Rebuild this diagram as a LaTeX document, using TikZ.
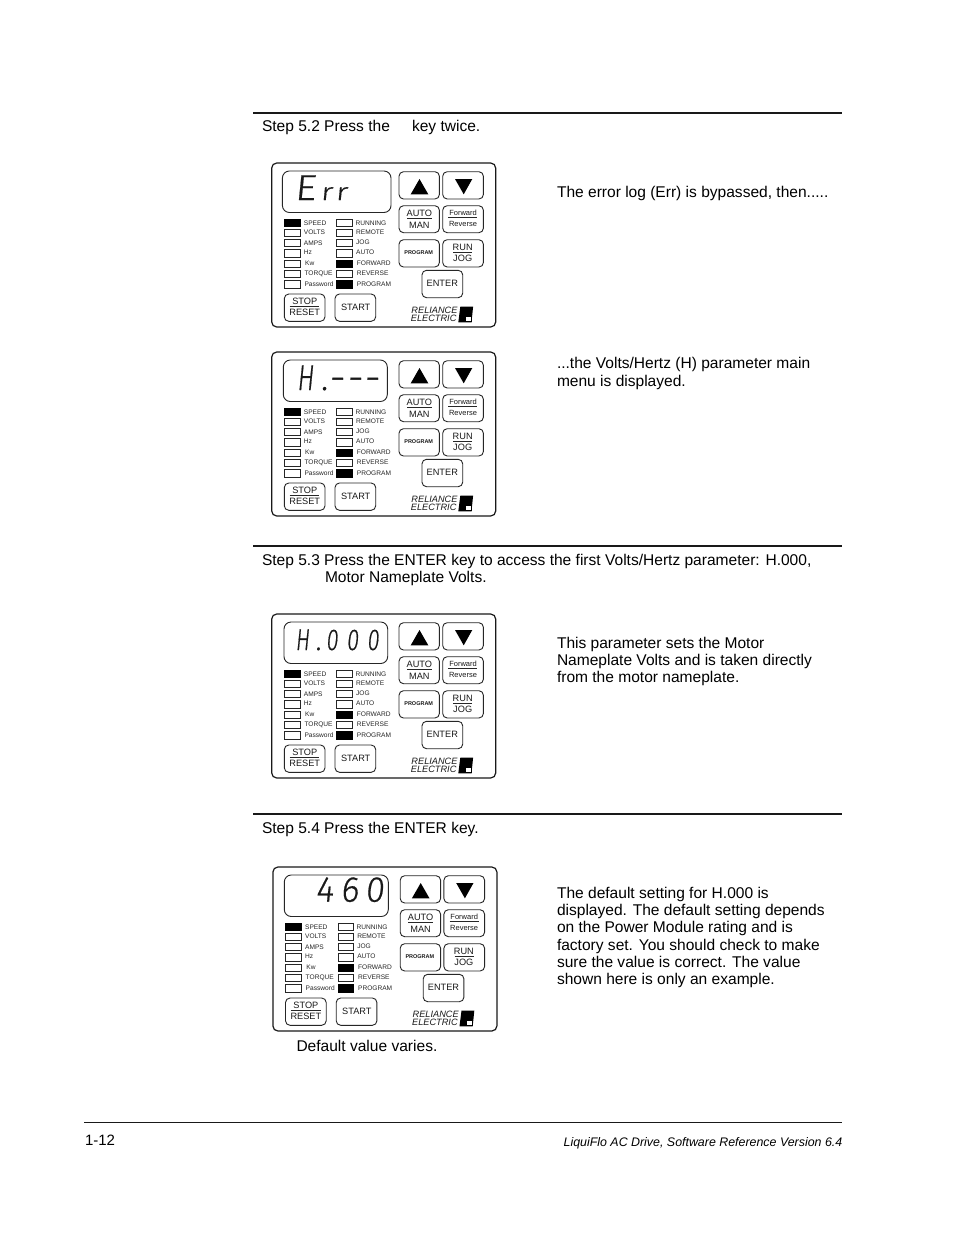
\documentclass[tikz,border=0pt]{standalone}
\usepackage{fontspec}
\setmainfont{Liberation Sans}
\newfontfamily\segE[FakeSlant=0.1,FakeStretch=1.15,FakeBold=0.5]{Fira Sans Light}
\newfontfamily\segR[FakeSlant=0.1,FakeStretch=1.35,FakeBold=0.5]{Fira Sans Light}
\newfontfamily\segH[FakeSlant=0.1,FakeStretch=0.68,FakeBold=0.5]{Fira Sans Light}
\newfontfamily\segD[FakeSlant=0.1,FakeStretch=0.72,FakeBold=0.5]{Fira Sans Light}
\newfontfamily\segN[FakeSlant=0.1,FakeStretch=0.95,FakeBold=0.5]{Fira Sans Light}
\newfontfamily\segM[FakeSlant=0.0,FakeStretch=1.1,FakeBold=0.8]{Fira Sans Light}
\newcommand{\fs}[1]{\fontsize{#1}{#1}\selectfont}
\newcommand{\cell}[2]{\makebox[#1pt][l]{#2}}
\tikzset{
  txt/.style={anchor=base west,inner sep=0,outer sep=0,font=\fs{15.55}},
  rulebar/.style={line width=2pt,black!90},
  btn/.style={draw=black!85,line width=.9pt,rounded corners=4.5pt},
  led/.style={draw=black!85,line width=.6pt},
  ledon/.style={fill=black,draw=black,line width=.6pt},
  ledtxt/.style={anchor=base west,inner sep=0,font=\fs{6.6},text=black!85},
  keytxt/.style={inner sep=0,font=\fs{9.2},text=black!90},
  smalltxt/.style={inner sep=0,font=\fs{7.5},text=black!90},
  fracline/.style={line width=.6pt,black!85},
  segtxt/.style={anchor=base west,inner sep=0,text=black!90},
}
\newcommand{\panel}[6]{%
\begin{scope}[shift={(#2,#3)}]
 \draw[line width=1.2pt,rounded corners=5pt,black!90] (0,0) rectangle (224,164);
 \draw[btn,rounded corners=7pt] (#4,8) rectangle (#5,49.5);
 #6
 % arrow keys
 \draw[btn] (127.3,8.7) rectangle (167.7,36);
 \draw[btn] (171,8.7) rectangle (211.7,36);
 \fill[black] (139,31.3) -- (156.6,31.3) -- (147.8,16) -- cycle;
 \fill[black] (183.3,16) -- (200.6,16) -- (192,31.3) -- cycle;
 % keys
 \draw[btn] (127.3,42.7) rectangle (167.7,69.7);
 \draw[btn] (171,42.7) rectangle (211.7,69.7);
 \draw[btn] (127.3,76.7) rectangle (167.7,104);
 \draw[btn] (171,76.7) rectangle (211.7,104);
 \draw[btn] (150.3,107.3) rectangle (191,134.7);
 \draw[btn] (12.6,131) rectangle (53.3,158.3);
 \draw[btn] (63.3,131) rectangle (104,158.3);
 \node[keytxt] (#1auto) at (147.7,49.9) {AUTO};
 \node[keytxt] (#1man) at (147.7,62) {MAN};
 \draw[fracline] (135.3,55.4) -- (160,55.4);
 \node[smalltxt] (#1fwd) at (191.3,50.3) {Forward};
 \node[smalltxt] (#1rev) at (191.3,60.5) {Reverse};
 \draw[fracline] (176.6,54.6) -- (205.7,54.6);
 \node[inner sep=0,font=\bfseries\fs{5.5},text=black!90] (#1prog) at (147,90) {PROGRAM};
 \node[keytxt] (#1run) at (191,84.2) {RUN};
 \node[keytxt] (#1jog) at (191,94.9) {JOG};
 \draw[fracline] (181.6,89.3) -- (200.6,89.3);
 \node[keytxt] (#1ent) at (170.6,120) {ENTER};
 \node[keytxt] (#1stop) at (33,138) {STOP};
 \node[keytxt] (#1res) at (33,149.3) {RESET};
 \draw[fracline] (18,143.7) -- (47.6,143.7);
 \node[keytxt] (#1start) at (84,144) {START};
 % LEDs
 \draw[ledon] (12.6,56) rectangle (28.3,63.5);
 \foreach \yy in {66,76.3,86.7,97.3,107.3,117.7} \draw[led] (12.6,\yy) rectangle (28.3,\yy+7.3);
 \foreach \yy in {56,66,76.3,86.7,107.3} \draw[led] (65,\yy) rectangle (80.7,\yy+7.3);
 \draw[ledon] (65,97) rectangle (80.7,104.5);
 \draw[ledon] (65,117.5) rectangle (80.7,125);
 \node[ledtxt] at (32,62) {SPEED};
 \node[ledtxt] at (32,71) {VOLTS};
 \node[ledtxt] at (32,82) {AMPS};
 \node[ledtxt] at (32,91.6) {Hz};
 \node[ledtxt] at (33.3,102) {Kw};
 \node[ledtxt] at (32.6,112) {TORQUE};
 \node[ledtxt] at (32.6,123) {Password};
 \node[ledtxt] at (83.6,62) {RUNNING};
 \node[ledtxt] at (84.2,71.6) {REMOTE};
 \node[ledtxt] at (84.2,81.6) {JOG};
 \node[ledtxt] at (84.2,91.6) {AUTO};
 \node[ledtxt] at (85,102) {FORWARD};
 \node[ledtxt] at (85,112.6) {REVERSE};
 \node[ledtxt] at (85,123) {PROGRAM};
 % logo
 \node[inner sep=0,font=\itshape\fs{9.2},text=black!90] (#1rel) at (162.8,147) {RELIANCE};
 \node[inner sep=0,font=\itshape\fs{9.2},text=black!90] (#1ele) at (162,155.8) {ELECTRIC};
 \fill[black] (188.6,143.7) -- (201.4,143.7) -- (199.8,159.3) -- (186.6,159.3) -- cycle;
 \draw[fill=white,line width=.6pt] (193.5,153) rectangle (199.2,158.6);
\end{scope}}
\begin{document}
\begin{tikzpicture}[x=1pt,y=-1pt]
\useasboundingbox (0,0) rectangle (954,1235);
\fill[white] (0,0) rectangle (954,1235);
% page rules
\draw[rulebar] (253,112.6) -- (842,112.6);
\draw[rulebar] (253,545.6) -- (842,545.6);
\draw[rulebar] (253,813.6) -- (842,813.6);
\draw[line width=.8pt,black!90] (84,1122) -- (842,1122);
% texts
\node[txt] (s52a) at (262,131) {Step 5.2 Press the};
\node[txt] (s52b) at (412,131) {key twice.};
\node[txt] (t1) at (557,197) {The error log (Err) is bypassed, then.....};
\node[txt] (t2) at (557,368) {...the Volts/Hertz (H) parameter main};
\node[txt] (t3) at (557,386) {menu is displayed.};
\node[txt] (s53a) at (262,565) {Step 5.3 Press the ENTER key to access the first Volts/Hertz parameter: H.000,};
\node[txt] (s53b) at (325,582) {Motor Nameplate Volts.};
\node[txt] (t4) at (557,648) {This parameter sets the Motor};
\node[txt] (t5) at (557,665) {Nameplate Volts and is taken directly};
\node[txt] (t6) at (557,682) {from the motor nameplate.};
\node[txt] (s54) at (262,833) {Step 5.4 Press the ENTER key.};
\node[txt] (t7) at (557,898) {The default setting for H.000 is};
\node[txt] (t8) at (557,915.3) {displayed. The default setting depends};
\node[txt] (t9) at (557,932.5) {on the Power Module rating and is};
\node[txt] (t10) at (557,950) {factory set. You should check to make};
\node[txt] (t11) at (557,967) {sure the value is correct. The value};
\node[txt] (t12) at (557,984) {shown here is only an example.};
\node[txt] (t13) at (296.5,1051) {Default value varies.};
\node[txt,font=\fs{15}] (pg) at (85,1145) {1-12};
\node[anchor=base east,inner sep=0,font=\itshape\fs{12.4}] (ft) at (842.5,1146.5) {LiquiFlo AC Drive, Software Reference Version 6.4};
% panels
\panel{a}{271.7}{163}{10.7}{119.3}{\node[segtxt] (ad) at (22.5,37) {\cell{26}{\segE\fs{36}E}\cell{15}{\segR\fs{24}r}{\segR\fs{24}r}};}
\panel{b}{271.7}{352}{11.6}{115.6}{\node[segtxt] (bd) at (25,38) {\cell{24}{\segH\fs{36}H}\cell{9}{\segN\fs{36}.}\cell{18}{\segM\fs{36}-}\cell{17}{\segM\fs{36}-}{\segM\fs{36}-}};}
\panel{c}{271.7}{614}{12.3}{116}{\node[segtxt] (cd) at (23.5,36) {\cell{20}{\segH\fs{30}H}\cell{10.5}{\segN\fs{30}.}\cell{20.5}{\segD\fs{30}0}\cell{20.5}{\segD\fs{30}0}{\segD\fs{30}0}};}
\panel{d}{272.9}{867}{11.4}{115.4}{\node[segtxt] (dd) at (42.5,34.7) {\cell{25}{\segN\fs{36}4}\cell{24.5}{\segN\fs{36}6}{\segN\fs{36}0}};}
\end{tikzpicture}
\end{document}
